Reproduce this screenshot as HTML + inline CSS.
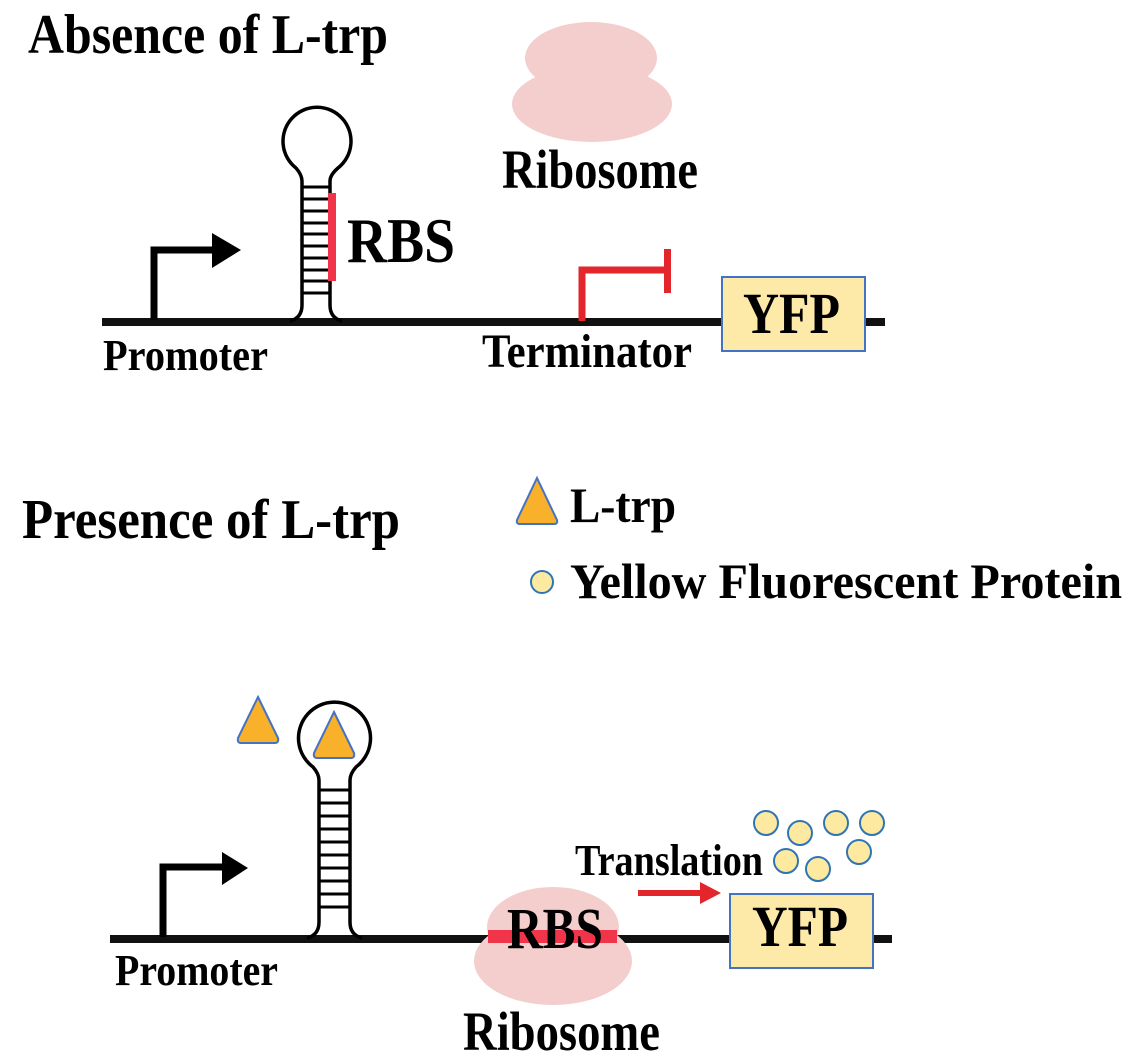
<!DOCTYPE html>
<html><head><meta charset="utf-8"><style>
html,body{margin:0;padding:0;background:#fff;}
svg{display:block;}
text{font-family:"Liberation Serif",serif;font-weight:bold;fill:#000;}
</style></head><body>
<svg width="1134" height="1064" viewBox="0 0 1134 1064" xmlns="http://www.w3.org/2000/svg">
<text x="28" y="53" font-size="56" textLength="360" lengthAdjust="spacingAndGlyphs">Absence of L-trp</text>

<ellipse cx="591" cy="58" rx="66" ry="36" fill="#f4cdcd"/>
<ellipse cx="592" cy="104" rx="80" ry="38" fill="#f4cdcd"/>
<text x="502" y="188" font-size="55" textLength="196" lengthAdjust="spacingAndGlyphs">Ribosome</text>

<rect x="102" y="318" width="783" height="8" fill="#111"/>

<path d="M154 320 V250 H216" fill="none" stroke="#000" stroke-width="7"/>
<polygon points="212,233 241,250 212,268" fill="#000"/>
<text x="103" y="370" font-size="44" textLength="165" lengthAdjust="spacingAndGlyphs">Promoter</text>

<path d="M290 321 Q302 318 302 305 V181 Q302 175 296 168 A34 34 0 1 1 338 168 Q330 175 330 181 V305 Q330 318 342 321" fill="none" stroke="#000" stroke-width="3.5"/>
<g stroke="#000" stroke-width="3">
<line x1="302" y1="187" x2="330" y2="187"/><line x1="302" y1="199" x2="330" y2="199"/>
<line x1="302" y1="211" x2="330" y2="211"/><line x1="302" y1="223" x2="330" y2="223"/>
<line x1="302" y1="234" x2="330" y2="234"/><line x1="302" y1="246" x2="330" y2="246"/>
<line x1="302" y1="258" x2="330" y2="258"/><line x1="302" y1="270" x2="330" y2="270"/>
<line x1="302" y1="281" x2="330" y2="281"/><line x1="302" y1="293" x2="330" y2="293"/>
</g>
<rect x="328" y="193" width="8" height="88" fill="#f0344a"/>
<text x="347" y="262" font-size="64" textLength="108" lengthAdjust="spacingAndGlyphs">RBS</text>

<path d="M582 321 V270 H666" fill="none" stroke="#e3262b" stroke-width="7"/>
<rect x="664" y="249" width="7" height="44" fill="#e3262b"/>
<text x="482" y="367" font-size="48" textLength="210" lengthAdjust="spacingAndGlyphs">Terminator</text>

<rect x="722" y="277" width="143" height="74" fill="#fde9a8" stroke="#4472c4" stroke-width="2"/>
<text x="743" y="333" font-size="58" textLength="97" lengthAdjust="spacingAndGlyphs">YFP</text>

<text x="22" y="538" font-size="56" textLength="378" lengthAdjust="spacingAndGlyphs">Presence of L-trp</text>

<path d="M537 478 L557 520 Q558 524 554 524 L520 524 Q516 524 517 520 Z" fill="#f9b02a" stroke="#4472c4" stroke-width="2"/>
<text x="570" y="522" font-size="50" textLength="106" lengthAdjust="spacingAndGlyphs">L-trp</text>
<circle cx="542" cy="582" r="11" fill="#fde9a0" stroke="#2e75b6" stroke-width="2"/>
<text x="570" y="598" font-size="50" textLength="552" lengthAdjust="spacingAndGlyphs">Yellow Fluorescent Protein</text>

<path d="M258 697 L278 738 Q279 743 275 743 L241 743 Q237 743 238 738 Z" fill="#f9b02a" stroke="#4472c4" stroke-width="2"/>

<rect x="110" y="935" width="782" height="8" fill="#111"/>

<path d="M163 937 V867 H226" fill="none" stroke="#000" stroke-width="7"/>
<polygon points="222,852 248,868 222,885" fill="#000"/>
<text x="115" y="985" font-size="44" textLength="163" lengthAdjust="spacingAndGlyphs">Promoter</text>

<path d="M307 938 Q319 935 319 922 V780 Q319 774 313 767 A36 36 0 1 1 356 767 Q350 774 350 780 V922 Q350 935 362 938" fill="none" stroke="#000" stroke-width="3.5"/>
<g stroke="#000" stroke-width="3">
<line x1="319" y1="790" x2="350" y2="790"/><line x1="319" y1="803" x2="350" y2="803"/>
<line x1="319" y1="816" x2="350" y2="816"/><line x1="319" y1="829" x2="350" y2="829"/>
<line x1="319" y1="842" x2="350" y2="842"/><line x1="319" y1="855" x2="350" y2="855"/>
<line x1="319" y1="868" x2="350" y2="868"/><line x1="319" y1="881" x2="350" y2="881"/>
<line x1="319" y1="894" x2="350" y2="894"/><line x1="319" y1="907" x2="350" y2="907"/>
</g>
<path d="M334 712 L354 753 Q355 758 351 758 L317 758 Q313 758 314 753 Z" fill="#f9b02a" stroke="#4472c4" stroke-width="2"/>

<ellipse cx="553" cy="927" rx="66" ry="40" fill="#f4cdcd"/>
<ellipse cx="553" cy="961" rx="79" ry="44" fill="#f4cdcd"/>
<rect x="488" y="930" width="129" height="13" fill="#f0344a"/>
<text x="507" y="948" font-size="58" textLength="96" lengthAdjust="spacingAndGlyphs">RBS</text>
<text x="463" y="1050" font-size="55" textLength="197" lengthAdjust="spacingAndGlyphs">Ribosome</text>

<text x="575" y="875" font-size="44" textLength="188" lengthAdjust="spacingAndGlyphs">Translation</text>
<rect x="638" y="890" width="64" height="6" fill="#e3262b"/>
<polygon points="700,882 721,893 700,904" fill="#e3262b"/>

<rect x="730" y="894" width="143" height="74" fill="#fde9a8" stroke="#4472c4" stroke-width="2"/>
<text x="752" y="946" font-size="58" textLength="96" lengthAdjust="spacingAndGlyphs">YFP</text>

<g fill="#fde9a0" stroke="#2e75b6" stroke-width="2">
<circle cx="766" cy="823" r="12"/><circle cx="800" cy="833" r="12"/>
<circle cx="836" cy="823" r="12"/><circle cx="872" cy="823" r="12"/>
<circle cx="786" cy="861" r="12"/><circle cx="818" cy="869" r="12"/>
<circle cx="859" cy="852" r="12"/>
</g>
</svg>
</body></html>
